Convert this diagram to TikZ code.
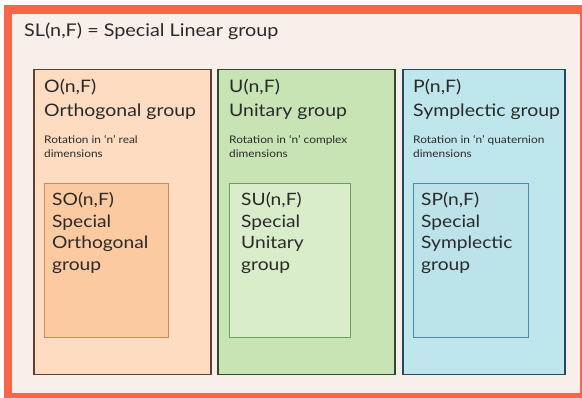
\documentclass[tikz,border=0pt]{standalone}
\usepackage{fontspec}
\setmainfont{Lato}[FakeStretch=1.13]
\definecolor{frameor}{HTML}{F96548}
\definecolor{cream}{HTML}{F8EFEA}
\definecolor{ofill}{HTML}{FDDCC2}
\definecolor{odraw}{HTML}{5C4033}
\definecolor{sofill}{HTML}{FBCAA0}
\definecolor{sodraw}{HTML}{D4874E}
\definecolor{ufill}{HTML}{C8E4B4}
\definecolor{udraw}{HTML}{2F4A2F}
\definecolor{sufill}{HTML}{D9EDCA}
\definecolor{sudraw}{HTML}{6E9E60}
\definecolor{pfill}{HTML}{BFE6EC}
\definecolor{pdraw}{HTML}{234A5C}
\definecolor{spfill}{HTML}{BDE3EA}
\definecolor{spdraw}{HTML}{4F88A3}
\definecolor{ink}{HTML}{2A2A2A}
\begin{document}
\begin{tikzpicture}[x=1pt,y=-1pt,
  outerbox/.style={draw, line width=1.5pt, anchor=north west, inner sep=0pt,
    minimum height=305pt},
  innerbox/.style={draw, line width=1pt, anchor=north west, inner sep=0pt,
    minimum height=154pt},
  txt/.style={anchor=base west, inner sep=0pt, text=ink},
  title/.style={txt, font=\fontsize{17.5}{20}\selectfont},
  head/.style={txt, font=\fontsize{17.2}{20}\selectfont},
  small/.style={txt, font=\fontsize{10.5}{12}\selectfont},
  inner/.style={txt, font=\fontsize{17}{20}\selectfont}]
\useasboundingbox (0,0) rectangle (582,398);
\fill[white] (0,0) rectangle (582,398);
\fill[frameor] (4,5) rectangle (590,398);
\fill[cream] (12,14) rectangle (580,393);

\node[title] (t) at (24,37) {SL(n,F) = Special Linear group};

% Orthogonal
\node[outerbox, fill=ofill, draw=odraw, minimum width=177pt] (O) at (33,69) {};
\node[head] (o1) at (44,93) {O(n,F)};
\node[head] (o2) at (44,117) {Orthogonal group};
\node[small] (o3) at (44,143.5) {Rotation in ‘n’ real};
\node[small] (o4) at (44,157.5) {dimensions};
\node[innerbox, fill=sofill, draw=sodraw, minimum width=124pt] (SO) at (44,183) {};
\node[inner] (so1) at (52,206) {SO(n,F)};
\node[inner] (so2) at (52,227.5) {Special};
\node[inner] (so3) at (52,249) {Orthogonal};
\node[inner] (so4) at (52,270.5) {group};

% Unitary
\node[outerbox, fill=ufill, draw=udraw, minimum width=177pt] (U) at (217,69) {};
\node[head] (u1) at (229,93) {U(n,F)};
\node[head] (u2) at (229,117) {Unitary group};
\node[small] (u3) at (229,143.5) {Rotation in ‘n’ complex};
\node[small] (u4) at (229,157.5) {dimensions};
\node[innerbox, fill=sufill, draw=sudraw, minimum width=121pt] (SU) at (229,183) {};
\node[inner] (su1) at (241,206) {SU(n,F)};
\node[inner] (su2) at (241,227.5) {Special};
\node[inner] (su3) at (241,249) {Unitary};
\node[inner] (su4) at (241,270.5) {group};

% Symplectic
\node[outerbox, fill=pfill, draw=pdraw, minimum width=162pt] (P) at (402,69) {};
\node[head] (p1) at (413,93) {P(n,F)};
\node[head] (p2) at (413,117) {Symplectic group};
\node[small] (p3) at (413,143.5) {Rotation in ‘n’ quaternion};
\node[small] (p4) at (413,157.5) {dimensions};
\node[innerbox, fill=spfill, draw=spdraw, minimum width=115pt] (SP) at (413,183) {};
\node[inner] (sp1) at (421,206) {SP(n,F)};
\node[inner] (sp2) at (421,227.5) {Special};
\node[inner] (sp3) at (421,249) {Symplectic};
\node[inner] (sp4) at (421,270.5) {group};
\end{tikzpicture}
\end{document}
